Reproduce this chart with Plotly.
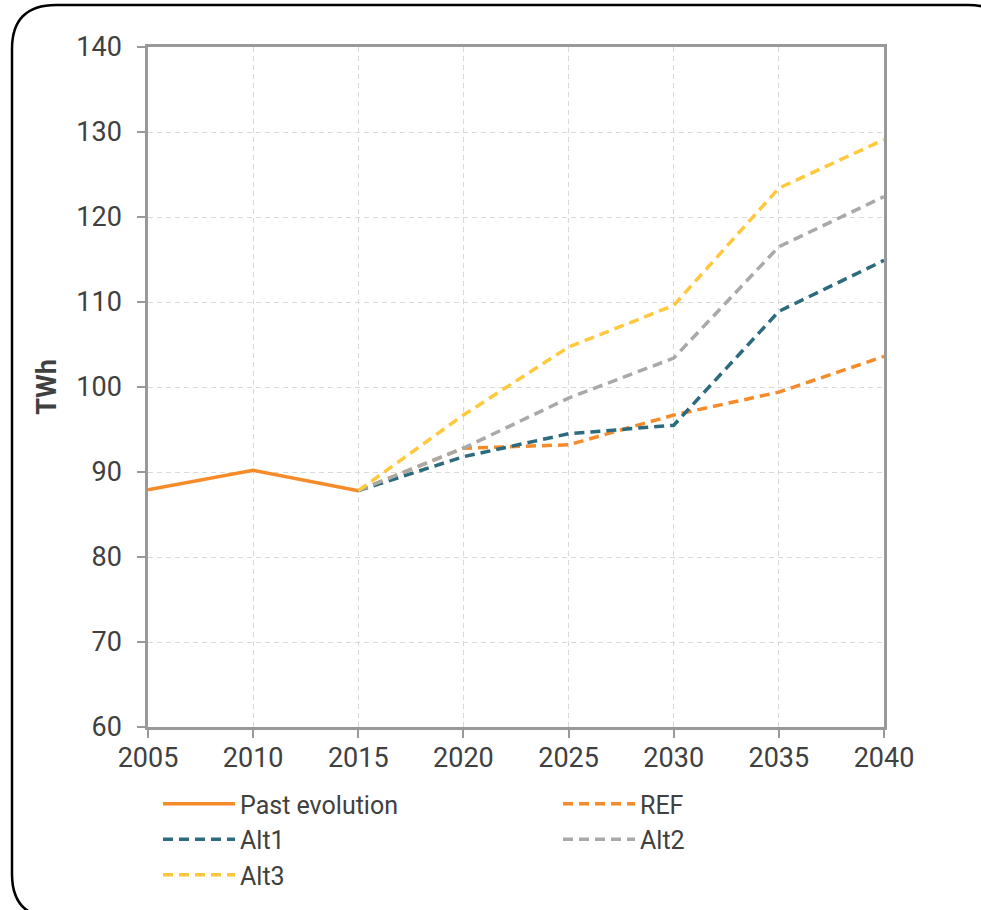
import plotly.graph_objects as go

# Electricity demand, TWh
years_past = [2005, 2010, 2015]
past_evolution = [87.9, 90.2, 87.8]

years_proj = [2015, 2020, 2025, 2030, 2035, 2040]
ref = [87.8, 92.8, 93.2, 96.7, 99.4, 103.6]
alt1 = [87.8, 91.8, 94.5, 95.5, 108.9, 114.9]
alt2 = [87.8, 92.8, 98.7, 103.4, 116.5, 122.4]
alt3 = [87.8, 96.7, 104.7, 109.6, 123.4, 129.1]

x_ticks = [2005, 2010, 2015, 2020, 2025, 2030, 2035, 2040]
y_ticks = [60, 70, 80, 90, 100, 110, 120, 130, 140]

ORANGE = "#F68B2A"
TEAL = "#2C6A7E"
GREY = "#A9A9A9"
YELLOW = "#FFC83D"
TEXT = "#404040"
FONT = "Roboto"

W, H = 981, 910
ML, MR, MT, MB = 148, 97, 47, 183
PW, PH = W - ML - MR, H - MT - MB

DASH = "10px,6px"

fig = go.Figure()
fig.add_trace(go.Scatter(x=years_past, y=past_evolution, mode="lines",
                         name="Past evolution", legend="legend",
                         line=dict(color=ORANGE, width=3.5)))
fig.add_trace(go.Scatter(x=years_proj, y=ref, mode="lines", name="REF",
                         legend="legend2",
                         line=dict(color=ORANGE, width=3.5, dash=DASH)))
fig.add_trace(go.Scatter(x=years_proj, y=alt1, mode="lines", name="Alt1",
                         legend="legend",
                         line=dict(color=TEAL, width=3.5, dash=DASH)))
fig.add_trace(go.Scatter(x=years_proj, y=alt2, mode="lines", name="Alt2",
                         legend="legend2",
                         line=dict(color=GREY, width=3.5, dash=DASH)))
fig.add_trace(go.Scatter(x=years_proj, y=alt3, mode="lines", name="Alt3",
                         legend="legend",
                         line=dict(color=YELLOW, width=3.5, dash=DASH)))


def px_to_paper(px, py):
    return (px - ML) / PW, (H - MB - py) / PH


# Rounded outer frame (runs past the right and bottom edges of the page)
left, top, right, bottom, r = 12, 5, 1012, 918, 44
pts = [
    ("M", [(left + r, top)]),
    ("L", [(right - r, top)]),
    ("Q", [(right, top), (right, top + r)]),
    ("L", [(right, bottom - r)]),
    ("Q", [(right, bottom), (right - r, bottom)]),
    ("L", [(left + r, bottom)]),
    ("Q", [(left, bottom), (left, bottom - r)]),
    ("L", [(left, top + r)]),
    ("Q", [(left, top), (left + r, top)]),
]
path = ""
for cmd, coords in pts:
    path += cmd + " ".join(
        "{:.5f},{:.5f}".format(*px_to_paper(cx, cy)) for cx, cy in coords
    ) + " "
path += "Z"

fig.add_shape(type="path", path=path, xref="paper", yref="paper",
              line=dict(color="black", width=2.5), layer="above")

axis_common = dict(
    showline=True, linecolor="#999999", linewidth=2.5, mirror=True,
    ticks="outside", ticklen=8, tickwidth=2, tickcolor="#999999",
    showgrid=True, gridcolor="#D9D9D9", gridwidth=1.2, griddash="5px,4px",
    zeroline=False, tickfont=dict(family=FONT, size=27, color=TEXT),
)

legend_common = dict(
    xanchor="left", yanchor="top", orientation="v",
    font=dict(family=FONT, size=25, color=TEXT),
    bgcolor="rgba(0,0,0,0)", tracegroupgap=0, itemwidth=72,
)

fig.update_layout(
    width=W, height=H,
    margin=dict(l=ML, r=MR, t=MT, b=MB, autoexpand=False),
    paper_bgcolor="white", plot_bgcolor="white",
    font=dict(family=FONT, color=TEXT),
    xaxis=dict(range=[2005, 2040], tickvals=x_ticks, ticklabelstandoff=-3,
               **axis_common),
    yaxis=dict(range=[60, 140], tickvals=y_ticks, ticklabelstandoff=10,
               title=dict(text="<b>TWh</b>", font=dict(family=FONT, size=27, color=TEXT),
                          standoff=12),
               **axis_common),
    legend=dict(x=px_to_paper(158, 0)[0], y=px_to_paper(0, 781)[1], **legend_common),
    legend2=dict(x=px_to_paper(558, 0)[0], y=px_to_paper(0, 781)[1], **legend_common),
    showlegend=True,
)

fig.write_html("out.html")
